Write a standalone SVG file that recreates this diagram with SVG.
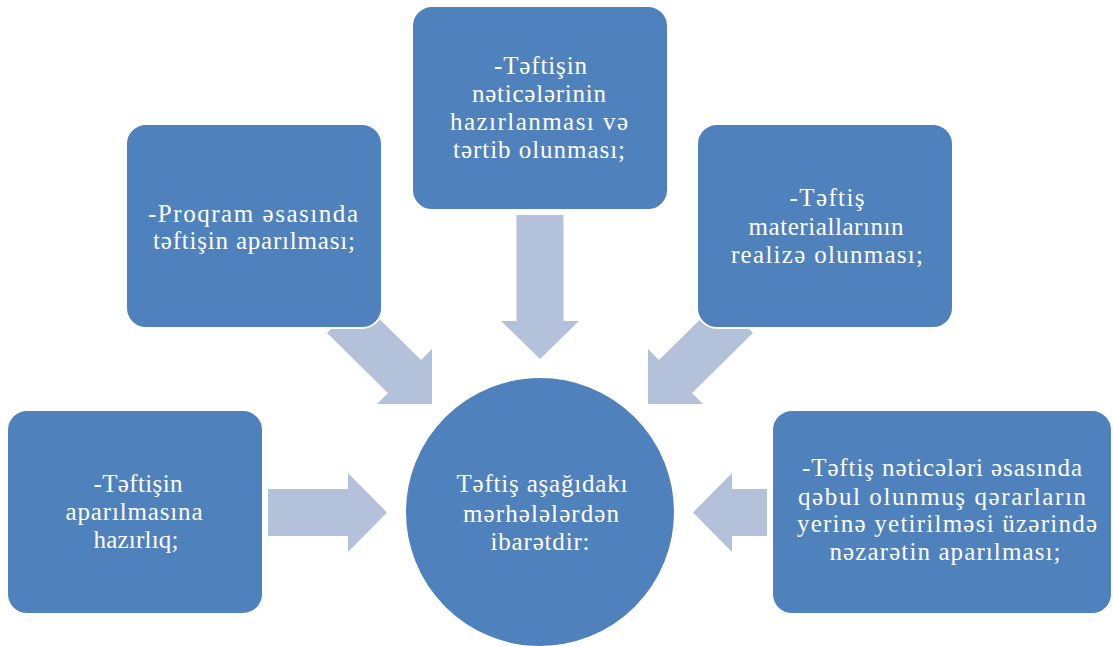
<svg xmlns="http://www.w3.org/2000/svg" width="1113" height="646" viewBox="0 0 1113 646">
<style>
.box{fill:#4F81BD;stroke:#FFFFFF;stroke-width:2}
.arr{fill:#B3C1DB}
text{font-family:"Liberation Serif","Times New Roman",serif;font-size:25px;fill:#FFFFFF;text-anchor:middle}
</style>
<rect width="1113" height="646" fill="#FFFFFF"/>
<g id="connectors">
<polygon class="arr" points="268,489 348,489 348,473 387,512.5 348,552 348,536 268,536"/>
<polygon class="arr" points="767,489 732,489 732,473 693,512.5 732,552 732,536 767,536"/>
<polygon class="arr" points="516.5,215 563.5,215 563.5,321 579,321 540,359 501,321 516.5,321"/>
<polygon class="arr" points="360,300 421,360 432,349 432,404 377,404 388,393 327,333"/>
<polygon class="arr" points="720,300 659,360 648,349 648,404 703,404 692,393 753,333"/>
</g>
<g id="node-top">
<rect class="box" x="412" y="6" width="256" height="204" rx="20"/>
<text x="540.5" y="74" textLength="93" lengthAdjust="spacing">-Təftişin</text>
<text x="539" y="102" textLength="134" lengthAdjust="spacing">nəticələrinin</text>
<text x="539" y="130" textLength="178" lengthAdjust="spacing">hazırlanması və</text>
<text x="539" y="158" textLength="172" lengthAdjust="spacing">tərtib olunması;</text>
</g>
<g id="node-topleft">
<rect class="box" x="126" y="124" width="256" height="204" rx="20"/>
<text x="253" y="222" textLength="210" lengthAdjust="spacing">-Proqram əsasında</text>
<text x="254" y="249" textLength="202" lengthAdjust="spacing">təftişin aparılması;</text>
</g>
<g id="node-topright">
<rect class="box" x="697" y="124" width="256" height="204" rx="20"/>
<text x="827" y="206" textLength="75" lengthAdjust="spacing">-Təftiş</text>
<text x="826" y="235" textLength="155" lengthAdjust="spacing">materiallarının</text>
<text x="827" y="263" textLength="192" lengthAdjust="spacing">realizə olunması;</text>
</g>
<g id="node-left">
<rect class="box" x="7" y="410" width="256" height="204" rx="20"/>
<text x="138" y="492" textLength="89" lengthAdjust="spacing">-Təftişin</text>
<text x="134" y="520" textLength="137" lengthAdjust="spacing">aparılmasına</text>
<text x="136" y="548" textLength="85" lengthAdjust="spacing">hazırlıq;</text>
</g>
<g id="node-right">
<rect class="box" x="772" y="410" width="340" height="204" rx="20"/>
<text x="942" y="476" textLength="280" lengthAdjust="spacing">-Təftiş nəticələri əsasında</text>
<text x="942" y="505" textLength="288" lengthAdjust="spacing">qəbul olunmuş qərarların</text>
<text x="947" y="532" textLength="300" lengthAdjust="spacing">yerinə yetirilməsi üzərində</text>
<text x="945" y="560" textLength="231" lengthAdjust="spacing">nəzarətin aparılması;</text>
</g>
<g id="node-center">
<circle class="box" cx="540" cy="512" r="135"/>
<text x="542" y="492" textLength="171" lengthAdjust="spacing">Təftiş aşağıdakı</text>
<text x="541" y="522" textLength="156" lengthAdjust="spacing">mərhələlərdən</text>
<text x="540" y="550" textLength="99" lengthAdjust="spacing">ibarətdir:</text>
</g>
</svg>
